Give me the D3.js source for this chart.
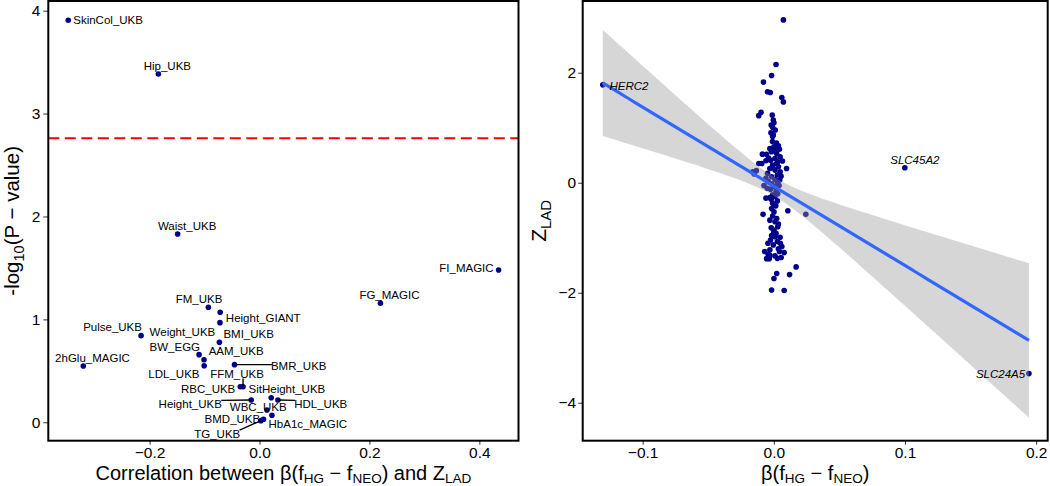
<!DOCTYPE html>
<html><head><meta charset="utf-8">
<script src="https://cdn.jsdelivr.net/npm/d3@7"></script>
<style>
body{margin:0;background:#fff}
svg{display:block}
text{font-family:"Liberation Sans",Arial,Helvetica,sans-serif}
</style>
</head><body>
<svg id="chart" width="1050" height="486"></svg>
<script>
// ---------------- DATA ----------------
// Left panel: traits
const traits = ["SkinCol_UKB","Hip_UKB","Waist_UKB","FI_MAGIC","FG_MAGIC","FM_UKB","Height_GIANT","Weight_UKB","BMI_UKB","Pulse_UKB","2hGlu_MAGIC","BW_EGG","AAM_UKB","LDL_UKB","BMR_UKB","FFM_UKB","RBC_UKB","SitHeight_UKB","Height_UKB","HDL_UKB","WBC_UKB","HbA1c_MAGIC","BMD_UKB","TG_UKB"];
const traitCorr = [-0.348,-0.184,-0.149,0.435,0.220,-0.093,-0.0716,-0.072,-0.073,-0.2155,-0.3206,-0.110,-0.101,-0.1007,-0.0455,-0.030,-0.035,0.0213,-0.0151,0.0335,0.0135,0.0226,0.0073,0.0026];
const traitNegLogP = [3.907,3.385,1.83,1.48,1.157,1.118,1.069,0.968,0.777,0.842,0.547,0.657,0.608,0.55,0.56,0.346,0.346,0.239,0.217,0.217,0.12,0.068,0.029,0.016];
const thresholdNegLogP = 2.76;
const leftXTicks = [-0.2, 0.0, 0.2, 0.4];
const leftYTicks = [0, 1, 2, 3, 4];

// Right panel: genes (unlabelled cloud)
const geneBeta = [0.0073,0.0017,-0.0017,-0.0079,-0.0048,-0.0027,0.0061,0.0073,-0.0097,-0.0115,-0.0012,-0.0004,0.0001,-0.0009,0.0011,-0.0022,-0.0004,-0.0009,
0.0035,0.0001,0.0043,-0.0017,0.0022,-0.0056,0.0048,0.0009,-0.0025,0.0066,0.0022,-0.0092,-0.0009,0.0035,0.0097,-0.0030,0.0009,-0.0133,0.0048,-0.0048,0.0027,-0.0017,0.0009,-0.0043,0.0027,-0.0017,0.0001,-0.0025,0.0017,-0.0009,-0.0030,0.0009,
0.0027,-0.0009,-0.0017,0.0001,-0.0082,0.0107,-0.0009,0.0022,0.0009,0.0030,0.0001,0.0017,-0.0017,0.0048,-0.0025,0.0027,-0.0004,0.0061,-0.0030,0.0043,0.0079,-0.0043,0.0009,0.0056,-0.0035,0.0027,0.0170,0.0022,0.0120,0.0001,-0.0017,0.0079,
-0.0160,-0.0150,0.0244,-0.0115,-0.0087,
-0.0030,0.0015,-0.0040,0.0030,-0.0010,0.0055,-0.0060,0.0040,-0.0050,0.0030,-0.0020,-0.0060,0.0015,-0.0030,0.0035,-0.0020,0.0010,-0.0045,0.0035,-0.0055,-0.0030,-0.0010,0.0020,-0.0020,-0.0060,0.0045,-0.0075,0.0000,0.0050,-0.0070];
const geneZ = [2.96,2.15,1.95,1.83,1.655,1.64,1.55,1.47,1.28,1.22,1.23,1.14,1.09,1.01,0.96,0.91,0.87,0.84,
0.67,0.655,0.61,0.565,0.53,0.516,0.47,0.44,0.41,0.395,0.35,0.35,0.32,0.29,0.26,0.26,0.23,0.22,0.20,0.17,0.14,0.11,0.06,0.02,0.00,-0.02,-0.07,-0.12,-0.16,-0.22,-0.27,-0.25,
-0.33,-0.375,-0.47,-0.53,-0.575,-0.51,-0.605,-0.65,-0.71,-0.80,-0.86,-0.92,-0.96,-0.99,-1.04,-1.07,-1.13,-1.16,-1.22,-1.25,-1.27,-1.30,-1.33,-1.36,-1.38,-1.375,-1.53,-1.65,-1.67,-1.74,-1.95,-1.96,
0.20,0.16,-0.575,0.35,0.52,
0.62,0.58,0.45,0.38,0.28,0.12,0.08,-0.05,-0.10,-0.20,-0.30,-0.28,-0.42,-0.68,-0.75,-0.82,-0.98,-1.10,-1.20,-1.38,-1.32,0.75,0.72,1.05,0.40,0.05,-0.05,-0.90,-1.10,-1.25];
// Right panel: labelled genes
const namedGenes = ["HERC2","SLC45A2","SLC24A5"];
const namedGeneBeta = [-0.1304, 0.0999, 0.1945];
const namedGeneZ = [1.78, 0.273, -3.47];
const rightXTicks = [-0.1, 0.0, 0.1, 0.2];
const rightYTicks = [-4, -2, 0, 2];

// ---------------- LAYOUT (label placement, px) ----------------
// [anchor, dx, dy, drawSegment]
const traitLabelLayout = [
 ["start",5,0,0],["middle",9,-8,0],["middle",9.5,-8.5,0],["end",-5,-1.7,0],["middle",9,-8,0],
 ["middle",-9.3,-8.3,0],["start",5.7,5.4,0],["end",-4.7,9,0],["start",4,-8.3,0],["middle",-28.5,-8.4,0],
 ["middle",9.2,-8.3,0],["end",1,-8,0],["start",4.7,-8.7,0],["end",-4.7,7.7,0],["start",36.4,1.3,1],
 ["middle",-6,-12.4,1],["end",-5,2,0],["start",-22.7,-9,0],["end",-29.3,4.3,1],["start",16.3,4.3,1],
 ["middle",-8.7,-3.3,0],["start",-3.4,9,0],["end",-3.3,0,0],["end",-20.7,13.3,1]
];
const geneLabelLayout = [["start",6.7,0.6],["middle",10,-8],["end",-3.8,0.7]];

const svg = d3.select("#chart");
const PT = "#00008B";
const LP = {x0:48.3, x1:518.5, y0:1, y1:440.7};
const RP = {x0:582.7, x1:1047.7, y0:1, y1:440.7};

const xL = d3.scaleLinear().domain([-0.3843, 0.4712]).range([LP.x0, LP.x1]);
const yL = d3.scaleLinear().domain([-0.179, 4.094]).range([LP.y1, LP.y0]);
const xR = d3.scaleLinear().domain([-0.1457, 0.2088]).range([RP.x0, RP.x1]);
const yR = d3.scaleLinear().domain([-4.69, 3.304]).range([RP.y1, RP.y0]);

function styleAxis(g){
  g.select(".domain").remove();
  g.selectAll(".tick line").attr("stroke","#333").attr("stroke-width",1);
  g.selectAll(".tick text").attr("fill","#000").attr("font-size","15.5px")
   .attr("font-family",'"Liberation Sans",Arial,Helvetica,sans-serif');
}
const fmt1 = d3.format(".1f"), fmt0 = d3.format("d");

// math-ish text helper
function mathText(g, parts, size, subSize, shift){
  let prevSub = false;
  parts.forEach(p=>{
    const sub = p[1] === 1;
    const t = g.append("tspan").text(p[0]).attr("font-size", (sub?subSize:size)+"px");
    if (sub && !prevSub) t.attr("dy", shift);
    else if (!sub && prevSub) t.attr("dy", -shift);
    prevSub = sub;
  });
}

// ============ LEFT PANEL ============
const gL = svg.append("g");
gL.append("g").attr("transform",`translate(0,${LP.y1})`)
  .call(d3.axisBottom(xL).tickValues(leftXTicks).tickFormat(fmt1).tickSize(4).tickPadding(2.5))
  .call(styleAxis);
gL.append("g").attr("transform",`translate(${LP.x0},0)`)
  .call(d3.axisLeft(yL).tickValues(leftYTicks).tickFormat(fmt0).tickSize(5).tickPadding(3))
  .call(styleAxis);

// threshold
gL.append("line").attr("x1",LP.x0).attr("x2",LP.x1)
  .attr("y1",yL(thresholdNegLogP)).attr("y2",yL(thresholdNegLogP))
  .attr("stroke","#ff0000").attr("stroke-width",2.2).attr("stroke-dasharray","11,5.5");

// points
gL.selectAll("circle.t").data(traits).join("circle").attr("class","t")
  .attr("cx",(d,i)=>xL(traitCorr[i])).attr("cy",(d,i)=>yL(traitNegLogP[i]))
  .attr("r",2.8).attr("fill",PT);

// labels + segments
const segG = gL.append("g");
const labG = gL.append("g");
traits.forEach((name,i)=>{
  const px = xL(traitCorr[i]), py = yL(traitNegLogP[i]);
  const L = traitLabelLayout[i];
  const t = labG.append("text").attr("x",px+L[1]).attr("y",py+L[2]).attr("dy","0.36em")
    .attr("text-anchor",L[0]).attr("font-size","11.5px").attr("fill","#000").text(name);
  if (L[3]) {
    const b = t.node().getBBox();
    const bx0=b.x+1, bx1=b.x+b.width-1, by0=b.y+2, by1=b.y+b.height-2;
    const ex = Math.max(bx0, Math.min(px, bx1));
    const ey = Math.max(by0, Math.min(py, by1));
    segG.append("line").attr("x1",px).attr("y1",py).attr("x2",ex).attr("y2",ey)
      .attr("stroke","#000").attr("stroke-width",1.4);
  }
});

// border
gL.append("rect").attr("x",LP.x0).attr("y",LP.y0).attr("width",LP.x1-LP.x0).attr("height",LP.y1-LP.y0)
  .attr("fill","none").attr("stroke","#000").attr("stroke-width",2);

// axis titles
const xtL = gL.append("text").attr("x",(LP.x0+LP.x1)/2).attr("y",480).attr("text-anchor","middle").attr("fill","#000");
mathText(xtL, [["Correlation between β(f",0],["HG",1],[" − f",0],["NEO",1],[") and Z",0],["LAD",1]], 20, 13.5, 3);
const ytL = gL.append("text").attr("transform",`translate(19,${(LP.y0+LP.y1)/2}) rotate(-90)`)
  .attr("text-anchor","middle").attr("fill","#000");
mathText(ytL, [["-log",0],["10",1],["(P − value)",0]], 20.5, 14.5, 4.5);

// ============ RIGHT PANEL ============
const gR = svg.append("g");
gR.append("g").attr("transform",`translate(0,${RP.y1})`)
  .call(d3.axisBottom(xR).tickValues(rightXTicks).tickFormat(fmt1).tickSize(4).tickPadding(2.5))
  .call(styleAxis);
gR.append("g").attr("transform",`translate(${RP.x0},0)`)
  .call(d3.axisLeft(yR).tickValues(rightYTicks).tickFormat(fmt0).tickSize(4.5).tickPadding(2))
  .call(styleAxis);

const allX = geneBeta.concat(namedGeneBeta);
const allY = geneZ.concat(namedGeneZ);

gR.selectAll("circle.g").data(allX).join("circle").attr("class","g")
  .attr("cx",d=>xR(d)).attr("cy",(d,i)=>yR(allY[i])).attr("r",2.8).attr("fill",PT);

// linear model fit with 95% CI
const n = allX.length;
const mx = d3.mean(allX), my = d3.mean(allY);
let sxx=0, sxy=0;
for (let i=0;i<n;i++){ sxx += (allX[i]-mx)**2; sxy += (allX[i]-mx)*(allY[i]-my); }
const slope = sxy/sxx, icpt = my - slope*mx;
let sse=0; for (let i=0;i<n;i++){ sse += (allY[i]-(icpt+slope*allX[i]))**2; }
const s = Math.sqrt(sse/(n-2));
const df = n-2, z = 1.959964;
const tq = z + (z**3+z)/(4*df) + (5*z**5+16*z**3+3*z)/(96*df*df);
const [xmin,xmax] = d3.extent(allX);
const grid = d3.range(80).map(k=> xmin + (xmax-xmin)*k/79);
const fit = grid.map(x=>{
  const yh = icpt + slope*x;
  const se = s*Math.sqrt(1/n + (x-mx)**2/sxx);
  return {x, y:yh, lo:yh-tq*se, hi:yh+tq*se};
});
gR.append("path").datum(fit)
  .attr("d", d3.area().x(d=>xR(d.x)).y0(d=>yR(d.lo)).y1(d=>yR(d.hi)))
  .attr("fill","#999999").attr("fill-opacity",0.4);
gR.append("path").datum(fit)
  .attr("d", d3.line().x(d=>xR(d.x)).y(d=>yR(d.y)))
  .attr("fill","none").attr("stroke","#3366FF").attr("stroke-width",3.2);

// gene labels
namedGenes.forEach((g,i)=>{
  const L = geneLabelLayout[i];
  gR.append("text").attr("x",xR(namedGeneBeta[i])+L[1]).attr("y",yR(namedGeneZ[i])+L[2]).attr("dy","0.36em")
    .attr("text-anchor",L[0]).attr("font-size","11.5px").attr("font-style","italic").attr("fill","#000").text(g);
});

gR.append("rect").attr("x",RP.x0).attr("y",RP.y0).attr("width",RP.x1-RP.x0).attr("height",RP.y1-RP.y0)
  .attr("fill","none").attr("stroke","#000").attr("stroke-width",2);

const xtR = gR.append("text").attr("x",(RP.x0+RP.x1)/2).attr("y",480).attr("text-anchor","middle").attr("fill","#000");
mathText(xtR, [["β(f",0],["HG",1],[" − f",0],["NEO",1],[")",0]], 20, 13.5, 3);
const ytR = gR.append("text").attr("transform",`translate(546,${(RP.y0+RP.y1)/2}) rotate(-90)`)
  .attr("text-anchor","middle").attr("fill","#000");
mathText(ytR, [["Z",0],["LAD",1]], 21, 15, 5);
</script>
</body></html>
